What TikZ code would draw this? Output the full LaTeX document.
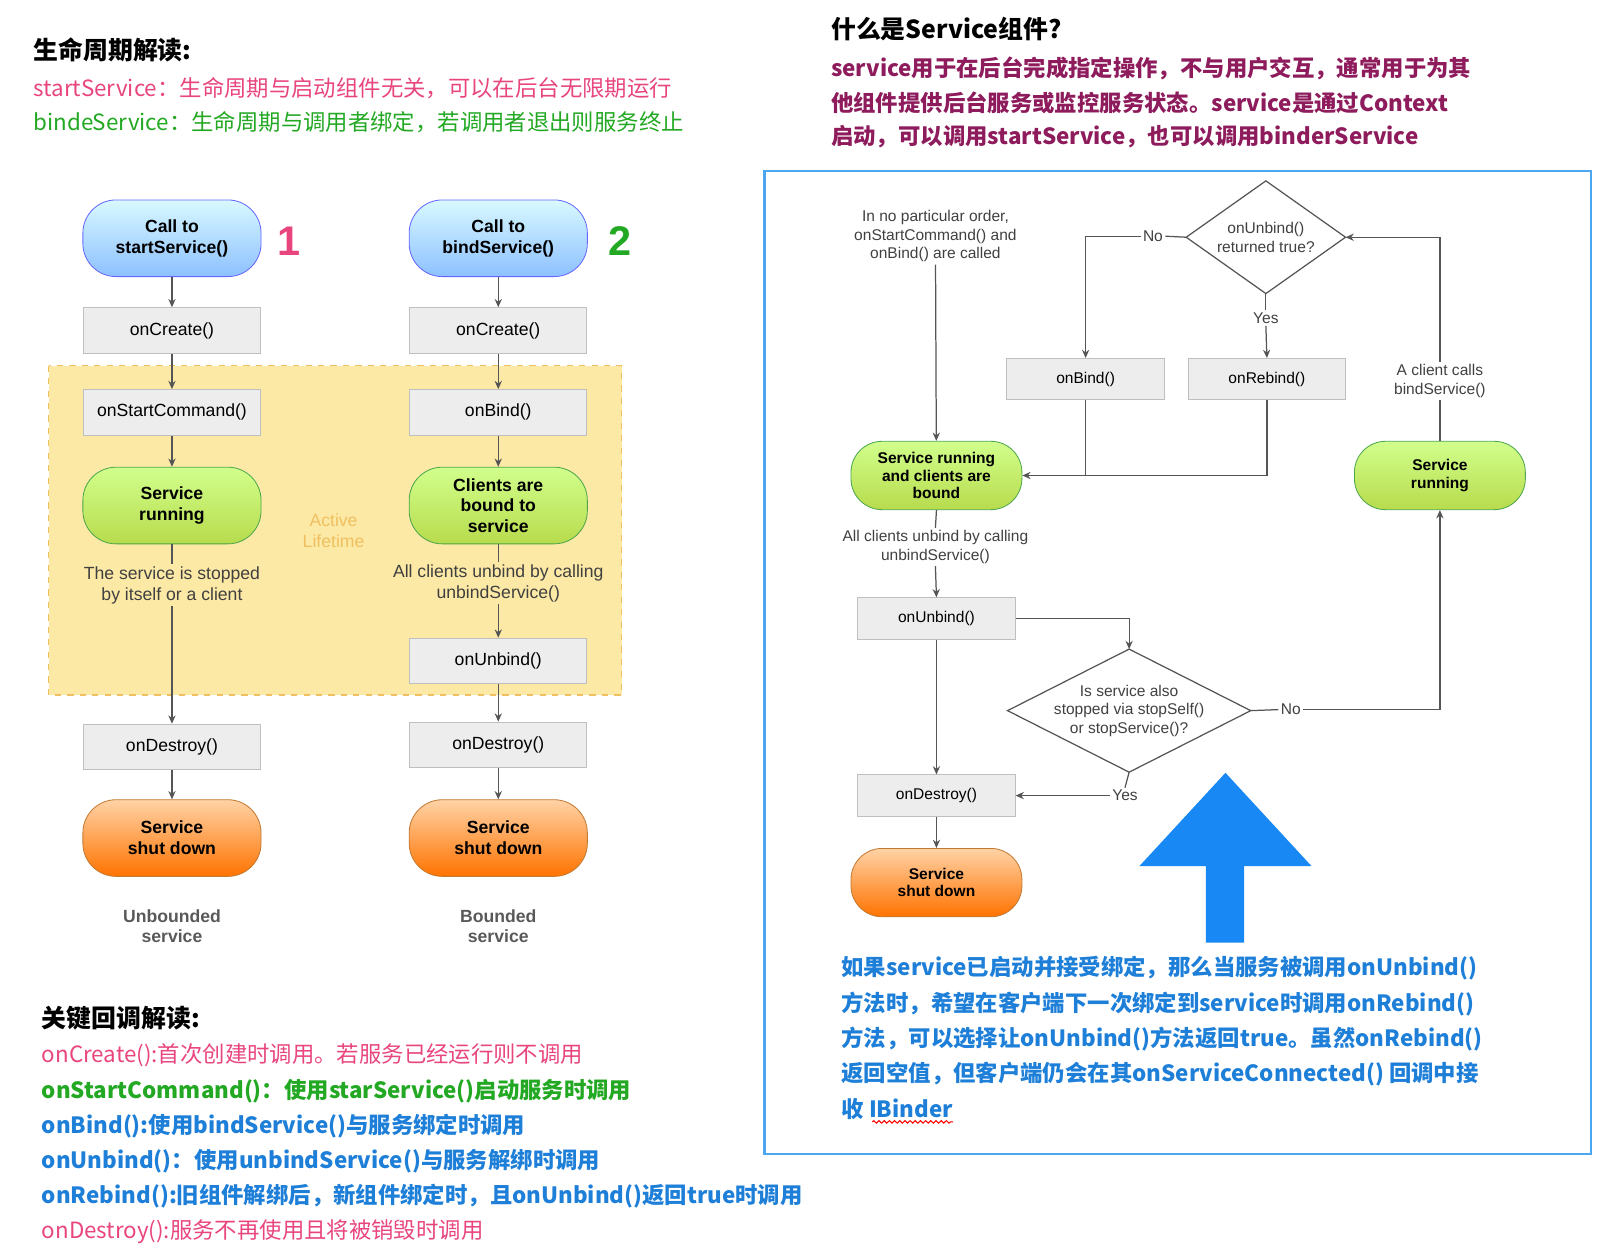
\documentclass[tikz,border=0pt]{standalone}
\usepackage{fontspec}
\setmainfont{Liberation Sans}
\newfontfamily\cjk{Noto Sans CJK SC}
\usetikzlibrary{shapes.geometric,arrows.meta,decorations.pathmorphing}
\definecolor{pinkc}{HTML}{E8457F}
\definecolor{greenc}{HTML}{22A822}
\definecolor{bluec}{HTML}{1E7FD8}
\definecolor{purp}{HTML}{8E1B5C}
\definecolor{frame}{HTML}{4DA6F0}
\definecolor{bigarrow}{HTML}{1888F5}
\definecolor{lin}{HTML}{555555}
\definecolor{yel}{HTML}{FCE9A6}
\definecolor{yelb}{HTML}{F0C060}
\begin{document}
\begin{tikzpicture}[x=0.5pt,y=-0.5pt,
  arr/.style={draw=lin,line width=0.6pt,-{Stealth[length=4pt,width=3.5pt]}},
  ln/.style={draw=lin,line width=0.6pt},
  gbox/.style={draw=black!25,fill=black!7,minimum width=85.5pt,minimum height=22pt,font=\fontsize{8.5}{10}\selectfont,inner sep=0},
  rbox/.style={gbox,minimum width=76pt,minimum height=20pt,font=\fontsize{7.5}{9}\selectfont},
  pill/.style={rounded corners=16pt,minimum width=86pt,minimum height=37pt,align=center,font=\fontsize{8.5}{10}\selectfont\bfseries,inner sep=0},
  blue/.style={pill,top color=blue!15!cyan!15,bottom color=blue!55!cyan!45,draw=blue!60},
  green/.style={pill,draw=green!50!black!70,top color=green!40!yellow!45,bottom color=green!50!black!40!yellow!70},
  orange/.style={pill,draw=orange!70!black!80,top color=orange!35,bottom color=orange!90!red},
  rpill/.style={minimum width=82.5pt,minimum height=33pt,rounded corners=15pt,font=\fontsize{7.5}{8.5}\selectfont\bfseries},
  lbl/.style={align=center,font=\fontsize{8.5}{10}\selectfont,text=black!75,inner sep=1pt},
  rlbl/.style={align=center,font=\fontsize{7.5}{9}\selectfont,text=black!75,inner sep=1pt},
  cn/.style={anchor=west,inner sep=0,font=\cjk\fontsize{10.8}{12}\selectfont},
  cnb/.style={cn,font=\cjk\fontsize{10.8}{12}\selectfont\bfseries},
  dia/.style={rectangle,inner sep=0,align=center,font=\fontsize{7.5}{9}\selectfont,text=black!75}]
\useasboundingbox (0,0) rectangle (1560,1212);
% ---- left texts
\node[cn,font=\cjk\fontsize{12}{14}\selectfont\bfseries] (t0) at (32,48) {生命周期解读:};
\node[cn,text=pinkc] (t1) at (32,85) {startService：生命周期与启动组件无关，可以在后台无限期运行};
\node[cn,text=greenc] (t2) at (32,118) {bindeService：生命周期与调用者绑定，若调用者退出则服务终止};
% yellow area
\filldraw[fill=yel,draw=yelb,dashed,line width=0.6pt] (47,353) rectangle (600,671);
\node[font=\fontsize{8.5}{10}\selectfont,text=yelb,align=center] (al) at (322,512) {Active\\Lifetime};
% column 1
\node[blue] (c1) at (166,230) {Call to\\startService()};
\node[font=\fontsize{20}{20}\selectfont\bfseries,text=pinkc] (n1) at (279,233) {1};
\node[gbox] (oc1) at (166,319) {onCreate()};
\node[gbox] (osc) at (166,398) {onStartCommand()};
\node[green] (sr1) at (166,488) {Service\\running};
\node[lbl] (st1) at (166,565) {The service is stopped\\by itself or a client};
\node[gbox] (od1) at (166,721) {onDestroy()};
\node[orange] (sd1) at (166,809) {Service\\shut down};
\node[lbl,font=\fontsize{8.5}{10}\selectfont\bfseries,text=black!65] (u1) at (166,894) {Unbounded\\service};
% column 2
\node[blue] (c2) at (481,230) {Call to\\bindService()};
\node[font=\fontsize{20}{20}\selectfont\bfseries,text=greenc] (n2) at (599,233) {2};
\node[gbox] (oc2) at (481,319) {onCreate()};
\node[gbox] (ob2) at (481,398) {onBind()};
\node[green] (cb2) at (481,488) {Clients are\\bound to\\service};
\node[lbl] (st2) at (481,563) {All clients unbind by calling\\unbindService()};
\node[gbox] (ou2) at (481,638) {onUnbind()};
\node[gbox] (od2) at (481,719) {onDestroy()};
\node[orange] (sd2) at (481,809) {Service\\shut down};
\node[lbl,font=\fontsize{8.5}{10}\selectfont\bfseries,text=black!65] (u2) at (481,894) {Bounded\\service};
\draw[arr] (c1)--(oc1); \draw[arr] (oc1)--(osc); \draw[arr] (osc)--(sr1);
\draw[ln] (sr1)--(st1); \draw[arr] (st1)--(od1); \draw[arr] (od1)--(sd1);
\draw[arr] (c2)--(oc2); \draw[arr] (oc2)--(ob2); \draw[arr] (ob2)--(cb2);
\draw[ln] (cb2)--(st2); \draw[arr] (st2)--(ou2); \draw[arr] (ou2)--(od2); \draw[arr] (od2)--(sd2);
% bottom-left texts
\node[cn,font=\cjk\fontsize{12}{14}\selectfont\bfseries] (k0) at (40,983) {关键回调解读:};
\node[cn,text=pinkc] (k1) at (40,1019) {onCreate():首次创建时调用。若服务已经运行则不调用};
\node[cnb,text=greenc] (k2) at (40,1053) {onStartCommand()：使用starService()启动服务时调用};
\node[cnb,text=bluec] (k3) at (40,1087) {onBind():使用bindService()与服务绑定时调用};
\node[cnb,text=bluec] (k4) at (40,1121) {onUnbind()：使用unbindService()与服务解绑时调用};
\node[cnb,text=bluec] (k5) at (40,1155) {onRebind():旧组件解绑后，新组件绑定时，且onUnbind()返回true时调用};
\node[cn,text=pinkc] (k6) at (40,1189) {onDestroy():服务不再使用且将被销毁时调用};
% right top texts
\node[cn,font=\cjk\fontsize{12}{14}\selectfont\bfseries] (r0) at (802,28) {什么是Service组件?};
\node[cnb,text=purp] (r1) at (802,66) {service用于在后台完成指定操作，不与用户交互，通常用于为其};
\node[cnb,text=purp] (r2) at (802,99) {他组件提供后台服务或监控服务状态。service是通过Context};
\node[cnb,text=purp] (r3) at (802,132) {启动，可以调用startService，也可以调用binderService};
% frame
\draw[frame,line width=1.2pt] (738,165) rectangle (1536,1114);
% right diagram
\node[rlbl] (intro) at (903,228) {In no particular order,\\onStartCommand() and\\onBind() are called};
\node[green,rpill] (srb) at (904,459) {Service running\\and clients are\\bound};
\node[dia,minimum width=76.5pt,minimum height=54pt] (d1) at (1222,229) {onUnbind()\\returned true?};
\draw[ln] (d1.north)--(d1.east)--(d1.south)--(d1.west)--cycle;
\node[rlbl] (no1) at (1113,228) {No};
\node[rlbl] (yes1) at (1222,307) {Yes};
\node[rbox] (ob) at (1048,366) {onBind()};
\node[rbox] (orb) at (1223,366) {onRebind()};
\node[green,rpill] (sr2) at (1390,459) {Service\\running};
\node[rlbl] (cl) at (1390,368) {A client calls\\bindService()};
\node[rlbl] (allc) at (903,528) {All clients unbind by calling\\unbindService()};
\node[rbox] (oub) at (904,597) {onUnbind()};
\node[dia,minimum width=117pt,minimum height=59pt] (d2) at (1090,686) {Is service also\\stopped via stopSelf()\\or stopService()?};
\draw[ln] (d2.north)--(d2.east)--(d2.south)--(d2.west)--cycle;
\node[rlbl] (no2) at (1246,685) {No};
\node[rlbl] (yes2) at (1086,768) {Yes};
\node[rbox] (odr) at (904,768) {onDestroy()};
\node[orange,rpill] (sdr) at (904,852) {Service\\shut down};
\draw[arr] (intro)--(srb);
\draw[ln] (d1.west)--(no1.east); \draw[arr] (no1.west)-|(ob.north);
\draw[ln] (d1.south)--(yes1.north); \draw[arr] (yes1.south)--(orb.north);
\draw[ln] (ob.south)--(ob.south|-srb.east);
\draw[arr] (orb.south)|-(srb.east);
\draw[ln] (sr2.north)--(cl.south); \draw[arr] (cl.north)|-(d1.east);
\draw[ln] (srb.south)--(allc.north); \draw[arr] (allc.south)--(oub.north);
\draw[arr] (oub.east)-|(d2.north);
\draw[ln] (d2.east)--(no2.west); \draw[arr] (no2.east)-|(sr2.south);
\draw[arr] (oub.south)--(odr.north);
\draw[ln] (d2.south)--(yes2.north); \draw[arr] (yes2.west)--(odr.east);
\draw[arr] (odr)--(sdr);
% big arrow
\fill[bigarrow] (1183,746) -- (1266,836) -- (1201,836) -- (1201,910) -- (1164,910) -- (1164,836) -- (1100,836) -- cycle;
% blue explanation
\node[cnb,text=bluec] (b1) at (812,935) {如果service已启动并接受绑定，那么当服务被调用onUnbind()};
\node[cnb,text=bluec] (b2) at (812,969) {方法时，希望在客户端下一次绑定到service时调用onRebind()};
\node[cnb,text=bluec] (b3) at (812,1003) {方法，可以选择让onUnbind()方法返回true。虽然onRebind()};
\node[cnb,text=bluec] (b4) at (812,1037) {返回空值，但客户端仍会在其onServiceConnected() 回调中接};
\node[cnb,text=bluec] (b5) at (812,1071) {收 IBinder};
\draw[red,line width=0.5pt,decorate,decoration={snake,amplitude=0.6pt,segment length=2.5pt}] (842,1083)--(920,1083);
\end{tikzpicture}
\end{document}
